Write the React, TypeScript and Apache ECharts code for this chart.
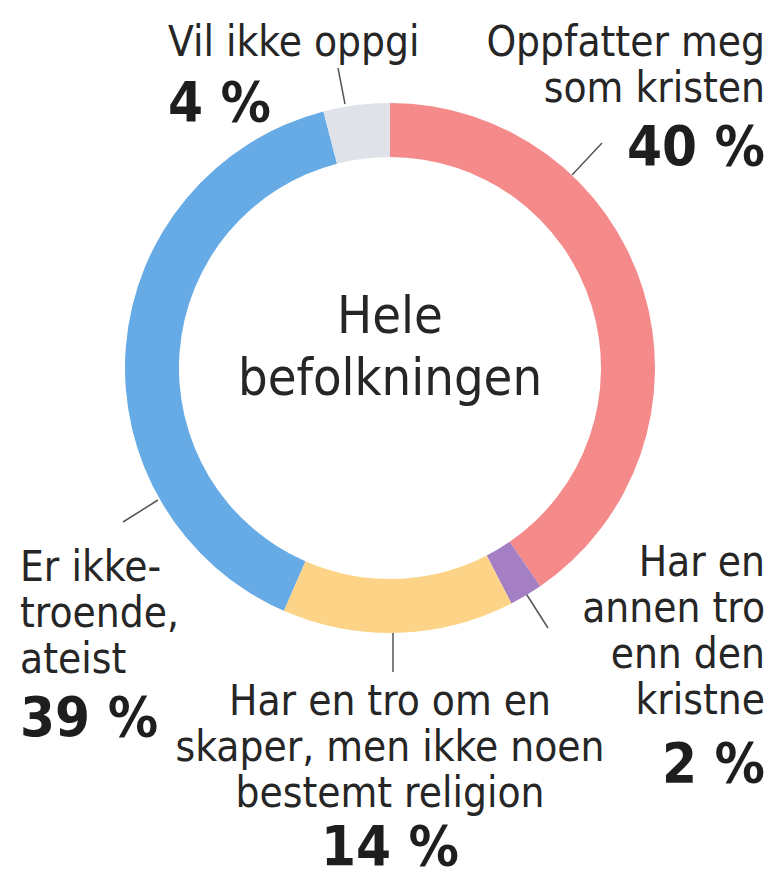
import React, { useEffect, useRef } from "react";
import * as echarts from "echarts";

const categories = [
  "Oppfatter meg som kristen",
  "Har en annen tro enn den kristne",
  "Har en tro om en skaper, men ikke noen bestemt religion",
  "Er ikke-troende, ateist",
  "Vil ikke oppgi",
];
const values = [40, 2, 14, 39, 4];
const colors = ["#f48b8a", "#a47fc4", "#fdd487", "#66abe6", "#dfe2e8"];
const labelLines = [
  ["Oppfatter meg", "som kristen"],
  ["Har en", "annen tro", "enn den", "kristne"],
  ["Har en tro om en", "skaper, men ikke noen", "bestemt religion"],
  ["Er ikke-", "troende,", "ateist"],
  ["Vil ikke oppgi"],
];
const centerTitle = ["Hele", "befolkningen"];

const FONT = "'Liberation Sans Narrow', 'DejaVu Sans Condensed', 'Open Sans', sans-serif";
const TEXT = "#262626";

export default function App() {
  const ref = useRef<HTMLDivElement>(null);
  useEffect(() => {
    if (!ref.current) return;
    const chart = echarts.init(ref.current, undefined, { renderer: "svg" });
    const cx = 390;
    const cy = 368;

    const blocks: any[] = [
      { x: 765, y: 53, align: "right", pctY: 173 },
      { x: 765, y: 573, align: "right", pctY: 790 },
      { x: 390, y: 712, align: "center", pctY: 873 },
      { x: 20, y: 578, align: "left", pctY: 744 },
      { x: 168, y: 53, align: "left", pctY: 129 },
    ];
    const lineH = 46;
    const graphics: any[] = [];
    blocks.forEach((b, i) => {
      graphics.push({
        type: "text",
        x: b.x,
        y: b.y - 35,
        style: {
          text: labelLines[i].join("\n"),
          fill: TEXT,
          font: `42px ${FONT}`,
          lineHeight: lineH,
          align: b.align,
          verticalAlign: "top",
        },
      });
      graphics.push({
        type: "text",
        x: b.x,
        y: b.pctY,
        style: {
          text: `${values[i]} %`,
          fill: "#1e1e1e",
          font: `bold 56px ${FONT}`,
          align: b.align,
          verticalAlign: "bottom",
        },
      });
    });
    graphics.push({
      type: "text",
      x: cx,
      y: 284,
      style: {
        text: centerTitle.join("\n"),
        fill: TEXT,
        font: `52px ${FONT}`,
        lineHeight: 62,
        align: "center",
        verticalAlign: "top",
      },
    });
    const ticks = [
      [572, 175, 602, 143],
      [525, 592, 548, 628],
      [393, 632, 393, 672],
      [158, 500, 123, 522],
      [345, 104, 338, 68],
    ];
    ticks.forEach((t) => {
      graphics.push({
        type: "line",
        shape: { x1: t[0], y1: t[1], x2: t[2], y2: t[3] },
        style: { stroke: "#555", lineWidth: 1.5 },
      });
    });

    chart.setOption({
      animation: false,
      backgroundColor: "#ffffff",
      series: [
        {
          type: "pie",
          center: [cx, cy],
          radius: [211, 265],
          startAngle: 90,
          clockwise: true,
          label: { show: false },
          labelLine: { show: false },
          emphasis: { disabled: true },
          itemStyle: { borderWidth: 0 },
          data: categories.map((c, i) => ({
            name: c,
            value: values[i],
            itemStyle: { color: colors[i] },
          })),
        },
      ],
      graphic: graphics,
    });
    return () => chart.dispose();
  }, []);
  return (
    <div
      ref={ref}
      style={{ position: "absolute", left: 0, top: 0, width: 774, height: 880 }}
    />
  );
}
